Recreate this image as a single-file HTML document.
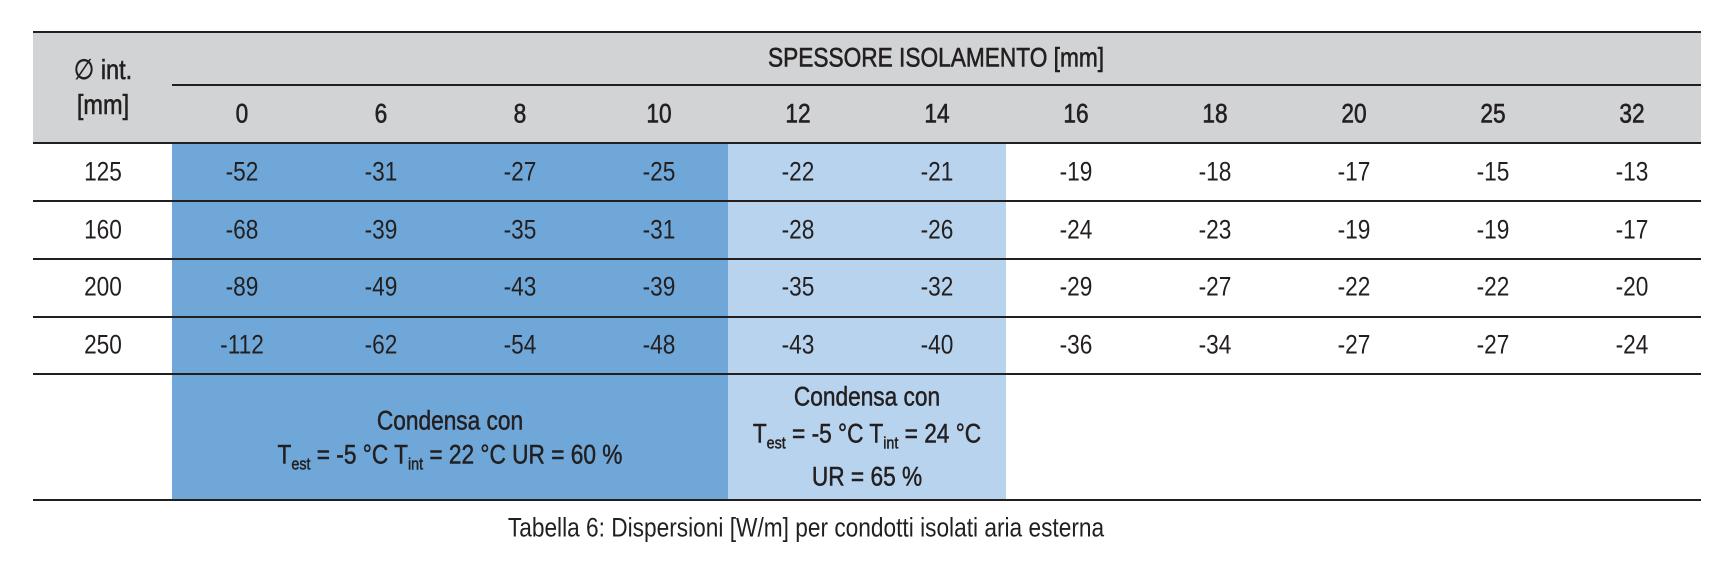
<!DOCTYPE html>
<html><head><meta charset="utf-8">
<style>
body{margin:0;width:1736px;height:564px;background:#fff;position:relative;overflow:hidden;font-family:"Liberation Sans Narrow","Liberation Sans",sans-serif;color:#231f20}
.a{position:absolute}
.tx{position:absolute;white-space:nowrap;transform:translate(-50%,-50%) scaleX(.84);font-size:27px;line-height:1}
.b{font-weight:bold}
.line{position:absolute;height:2px;background:#231f20}
sub{font-size:17px;vertical-align:-6px}
</style></head><body>
<div class="a" style="left:33px;top:32px;width:1668px;height:111px;background:#d1d3d4"></div>
<div class="a" style="left:172px;top:144px;width:556px;height:356px;background:#6fa8d8"></div>
<div class="a" style="left:728px;top:144px;width:278px;height:356px;background:#b8d3ee"></div>
<div class="line" style="left:33px;top:31px;width:1668px"></div>
<div class="line" style="left:172px;top:84px;width:1529px"></div>
<div class="line" style="left:33px;top:142px;width:1668px"></div>
<div class="line" style="left:33px;top:200px;width:1668px;height:1.5px"></div>
<div class="line" style="left:33px;top:258px;width:1668px;height:1.5px"></div>
<div class="line" style="left:33px;top:316px;width:1668px;height:1.5px"></div>
<div class="line" style="left:33px;top:373px;width:1668px;height:1.5px"></div>
<div class="line" style="left:33px;top:499px;width:1668px"></div>

<div class="tx b" style="left:103px;top:70px;font-size:28px;font-weight:normal;-webkit-text-stroke:.6px #231f20">∅ int.</div>
<div class="tx b" style="left:103px;top:105px;font-size:28px;font-weight:normal;-webkit-text-stroke:.6px #231f20">[mm]</div>
<div class="tx" style="left:936px;top:58px;font-size:27px;-webkit-text-stroke:.6px #231f20">SPESSORE ISOLAMENTO [mm]</div>

<div class="tx" style="left:450px;top:421px;-webkit-text-stroke:.5px #231f20">Condensa con</div>
<div class="tx" style="left:450px;top:457px;-webkit-text-stroke:.5px #231f20">T<sub>est</sub> = -5 °C T<sub>int</sub> = 22 °C UR = 60 %</div>
<div class="tx" style="left:867px;top:397px;-webkit-text-stroke:.5px #231f20">Condensa con</div>
<div class="tx" style="left:867px;top:436px;-webkit-text-stroke:.5px #231f20">T<sub>est</sub> = -5 °C T<sub>int</sub> = 24 °C</div>
<div class="tx" style="left:867px;top:477px;-webkit-text-stroke:.5px #231f20">UR = 65 %</div>

<div class="tx" style="left:806px;top:528px;font-size:27px">Tabella 6: Dispersioni [W/m] per condotti isolati aria esterna</div>

<script>
const thicknesses=["0","6","8","10","12","14","16","18","20","25","32"];
const diameters=["125","160","200","250"];
const rowValues=[
[-52,-31,-27,-25,-22,-21,-19,-18,-17,-15,-13],
[-68,-39,-35,-31,-28,-26,-24,-23,-19,-19,-17],
[-89,-49,-43,-39,-35,-32,-29,-27,-22,-22,-20],
[-112,-62,-54,-48,-43,-40,-36,-34,-27,-27,-24]
];
const colX=i=>172+69.5+i*139;
const rowY=r=>172+r*57.5;
function mk(txt,x,y,extra){
  const d=document.createElement('div');
  d.className='tx';
  d.textContent=txt;
  d.style.left=x+'px';d.style.top=y+'px';
  if(extra)d.style.cssText+=extra;
  document.body.appendChild(d);
  return d;
}
thicknesses.forEach((t,i)=>{
  const d=mk(t,colX(i),114,'-webkit-text-stroke:.6px #231f20');
  
  
});
diameters.forEach((dm,r)=>{
  const d=mk(dm,103,rowY(r));
  
  
  rowValues[r].forEach((v,i)=>{
    const c=mk(String(v),colX(i),rowY(r));
    
    
  });
});
</script>
</body></html>
